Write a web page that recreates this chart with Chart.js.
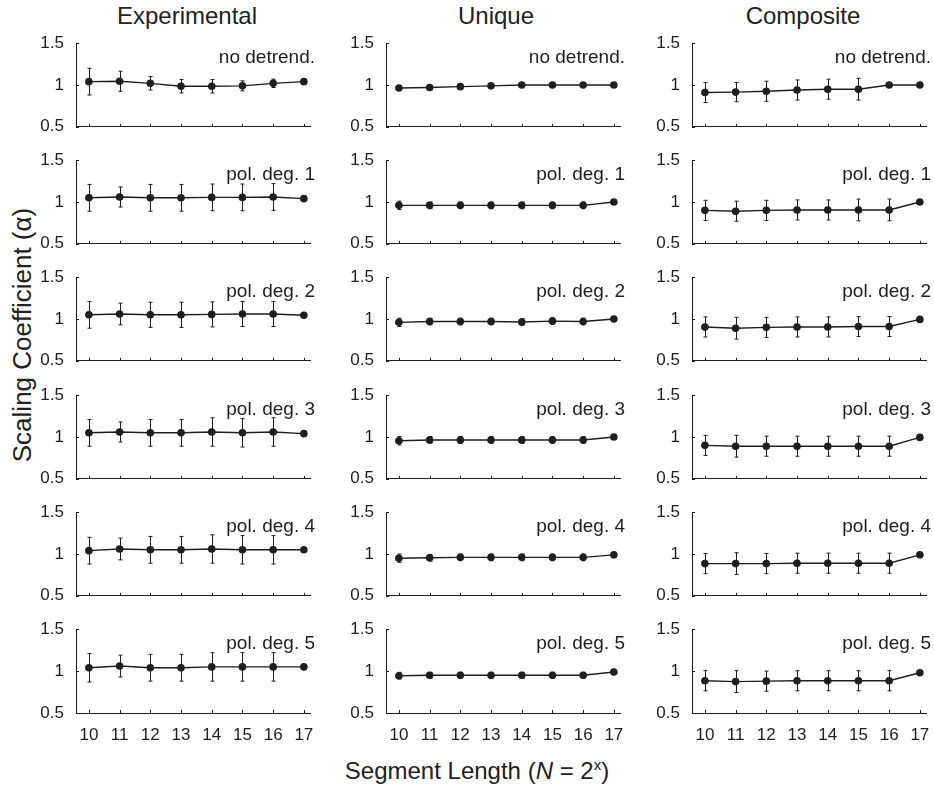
<!DOCTYPE html>
<html>
<head>
<meta charset="utf-8">
<script src="https://cdn.jsdelivr.net/npm/chart.js@4.4.1/dist/chart.umd.min.js"></script>
<style>
  body { margin: 0; background: #fff; font-family: "Liberation Sans", Arial, sans-serif; color: #222; }
  #wrap { position: relative; width: 934px; height: 792px; overflow: hidden; }
  .panel { position: absolute; }
  .panel canvas { display: block; }
  .title { position: absolute; font-size: 24px; transform: translateX(-50%); white-space: nowrap; }
  #xtitle { position: absolute; left: 477px; top: 756px; font-size: 24px; transform: translateX(-50%); white-space: nowrap; }
  #ytitle { position: absolute; left: 22px; top: 335px; font-size: 26px; transform: translate(-50%, -50%) rotate(-90deg); white-space: nowrap; }
</style>
</head>
<body>
<div id="wrap">
  <div id="xtitle">Segment Length (<i>N</i> = 2<sup style="font-size:15px">x</sup>)</div>
  <div id="ytitle">Scaling Coefficient (&alpha;)</div>
</div>
<script>
// x values: log2 of segment length
const segLen = [10, 11, 12, 13, 14, 15, 16, 17];
const colTitles = ['Experimental', 'Unique', 'Composite'];
const rowLabels = ['no detrend.', 'pol. deg. 1', 'pol. deg. 2', 'pol. deg. 3', 'pol. deg. 4', 'pol. deg. 5'];
const yTicks = [0.5, 1, 1.5];

// Experimental
const expVals = [
  [1.04, 1.045, 1.02, 0.985, 0.985, 0.99, 1.02, 1.04],
  [1.05, 1.06, 1.05, 1.05, 1.055, 1.055, 1.06, 1.04],
  [1.05, 1.06, 1.05, 1.05, 1.055, 1.06, 1.06, 1.045],
  [1.05, 1.06, 1.05, 1.05, 1.06, 1.05, 1.06, 1.04],
  [1.04, 1.06, 1.05, 1.05, 1.06, 1.05, 1.05, 1.05],
  [1.04, 1.06, 1.04, 1.04, 1.05, 1.05, 1.05, 1.05]
];
const expErr = [
  [0.16, 0.12, 0.08, 0.08, 0.08, 0.06, 0.05, 0],
  [0.16, 0.12, 0.16, 0.16, 0.16, 0.16, 0.16, 0],
  [0.16, 0.13, 0.15, 0.15, 0.15, 0.15, 0.15, 0],
  [0.16, 0.12, 0.16, 0.16, 0.17, 0.17, 0.17, 0],
  [0.16, 0.13, 0.16, 0.16, 0.17, 0.17, 0.17, 0],
  [0.17, 0.13, 0.16, 0.16, 0.17, 0.17, 0.17, 0]
];

// Unique
const uniVals = [
  [0.965, 0.97, 0.98, 0.99, 1.0, 1.0, 1.0, 1.0],
  [0.96, 0.96, 0.96, 0.96, 0.96, 0.96, 0.96, 1.0],
  [0.96, 0.97, 0.97, 0.97, 0.965, 0.975, 0.97, 1.0],
  [0.955, 0.965, 0.965, 0.965, 0.965, 0.965, 0.965, 1.0],
  [0.95, 0.955, 0.96, 0.96, 0.96, 0.96, 0.96, 0.99],
  [0.945, 0.95, 0.95, 0.95, 0.95, 0.95, 0.95, 0.99]
];
const uniErr = [
  [0.03, 0.02, 0.015, 0.015, 0.01, 0.01, 0.01, 0],
  [0.05, 0.04, 0.04, 0.04, 0.04, 0.04, 0.04, 0],
  [0.05, 0.04, 0.04, 0.04, 0.04, 0.04, 0.04, 0],
  [0.05, 0.04, 0.04, 0.04, 0.04, 0.04, 0.04, 0],
  [0.05, 0.04, 0.04, 0.04, 0.04, 0.04, 0.04, 0],
  [0.04, 0.035, 0.035, 0.035, 0.035, 0.035, 0.035, 0]
];

// Composite
const compVals = [
  [0.91, 0.915, 0.925, 0.94, 0.95, 0.95, 1.0, 1.0],
  [0.9, 0.89, 0.9, 0.905, 0.905, 0.905, 0.905, 1.0],
  [0.905, 0.89, 0.9, 0.905, 0.905, 0.91, 0.91, 0.995],
  [0.9, 0.89, 0.89, 0.89, 0.89, 0.89, 0.89, 0.995],
  [0.885, 0.885, 0.885, 0.89, 0.89, 0.89, 0.89, 0.99],
  [0.885, 0.875, 0.88, 0.885, 0.885, 0.885, 0.885, 0.98]
];
const compErr = [
  [0.12, 0.115, 0.12, 0.12, 0.12, 0.13, 0, 0],
  [0.12, 0.12, 0.12, 0.12, 0.12, 0.13, 0.13, 0],
  [0.12, 0.13, 0.12, 0.12, 0.12, 0.12, 0.12, 0],
  [0.12, 0.13, 0.12, 0.12, 0.12, 0.12, 0.12, 0],
  [0.12, 0.13, 0.12, 0.12, 0.12, 0.12, 0.12, 0],
  [0.12, 0.13, 0.12, 0.12, 0.12, 0.12, 0.12, 0]
];

const columns = [
  { vals: expVals, err: expErr },
  { vals: uniVals, err: uniErr },
  { vals: compVals, err: compErr }
];

// panel geometry
const axisLeft = [76, 386, 692];   // x of y-axis line per column
const plotW = 234;
const plotH = 84;
const rowTop0 = 43, rowStep = 117.2;
const yAxisW = 56, padTop = 12, padRight = 24;
const titleX = [187, 496, 803];
const ink = '#1e1e1e';
const FONT = '"Liberation Sans", Arial, sans-serif';

// error bars drawn through the chart's scales
const errorBars = {
  id: 'errorBars',
  beforeDatasetsDraw(chart, args, opts) {
    const { ctx, scales: { x, y } } = chart;
    ctx.save();
    ctx.strokeStyle = ink;
    ctx.lineWidth = 1;
    opts.values.forEach((v, i) => {
      const e = opts.errors[i];
      if (!e) return;
      const px = Math.round(x.getPixelForValue(opts.xs[i])) + 0.5;
      const top = y.getPixelForValue(v + e), bot = y.getPixelForValue(v - e);
      ctx.beginPath();
      ctx.moveTo(px, top); ctx.lineTo(px, bot);
      ctx.moveTo(px - 2, top); ctx.lineTo(px + 2, top);
      ctx.moveTo(px - 2, bot); ctx.lineTo(px + 2, bot);
      ctx.stroke();
    });
    ctx.restore();
  }
};

// small inward ticks plus the panel label
const panelDecor = {
  id: 'panelDecor',
  afterDraw(chart, args, opts) {
    const { ctx, chartArea: a, scales: { x, y } } = chart;
    ctx.save();
    ctx.strokeStyle = ink;
    ctx.lineWidth = 1;
    ctx.beginPath();
    yTicks.forEach(t => {
      const py = Math.round(y.getPixelForValue(t)) + 0.5;
      ctx.moveTo(a.left, py); ctx.lineTo(a.left + 3, py);
    });
    segLen.forEach(t => {
      const px = Math.round(x.getPixelForValue(t)) + 0.5;
      ctx.moveTo(px, a.bottom); ctx.lineTo(px, a.bottom - 3);
    });
    ctx.stroke();
    ctx.fillStyle = ink;
    ctx.font = '19px ' + FONT;
    ctx.textAlign = 'right';
    ctx.textBaseline = 'middle';
    ctx.fillText(opts.label, a.right + 5, y.getPixelForValue(1.33));
    ctx.restore();
  }
};

const wrap = document.getElementById('wrap');

colTitles.forEach((t, c) => {
  const d = document.createElement('div');
  d.className = 'title';
  d.textContent = t;
  d.style.left = titleX[c] + 'px';
  d.style.top = '2px';
  wrap.appendChild(d);
});

for (let r = 0; r < rowLabels.length; r++) {
  const isBottom = r === rowLabels.length - 1;
  const xH = isBottom ? 36 : 12;
  const wantTop = Math.round(rowTop0 + rowStep * r);
  for (let c = 0; c < columns.length; c++) {
    const vals = columns[c].vals[r];
    const errs = columns[c].err[r];
    const w = yAxisW + plotW + padRight;
    let h = padTop + plotH + xH;
    const div = document.createElement('div');
    div.className = 'panel';
    div.style.left = (axisLeft[c] - yAxisW) + 'px';
    div.style.top = (wantTop - padTop) + 'px';
    div.style.width = w + 'px';
    div.style.height = h + 'px';
    const canvas = document.createElement('canvas');
    div.appendChild(canvas);
    wrap.appendChild(div);

    const chart = new Chart(canvas.getContext('2d'), {
      type: 'line',
      data: {
        datasets: [{
          data: segLen.map((s, i) => ({ x: s, y: vals[i] })),
          borderColor: ink,
          backgroundColor: ink,
          borderWidth: 1.4,
          pointRadius: 3.8,
          pointBackgroundColor: ink,
          pointBorderWidth: 0,
          tension: 0
        }]
      },
      options: {
        responsive: true,
        maintainAspectRatio: false,
        animation: false,
        layout: { autoPadding: false, padding: { top: padTop, right: padRight, left: 0, bottom: 0 } },
        scales: {
          x: {
            type: 'linear',
            min: 9.58,
            max: 17.2,
            afterBuildTicks: s => { s.ticks = segLen.map(v => ({ value: v })); },
            afterFit: s => { s.height = xH; },
            grid: { display: false, drawTicks: false },
            border: { display: true, color: ink, width: 1 },
            ticks: {
              display: isBottom,
              padding: 12,
              color: ink,
              font: { family: FONT, size: 17 },
              maxRotation: 0,
              autoSkip: false
            }
          },
          y: {
            min: 0.5,
            max: 1.5,
            afterBuildTicks: s => { s.ticks = yTicks.map(v => ({ value: v })); },
            afterFit: s => { s.width = yAxisW; },
            grid: { display: false, drawTicks: false },
            border: { display: true, color: ink, width: 1 },
            ticks: {
              padding: 12,
              color: ink,
              font: { family: FONT, size: 17 },
              callback: v => String(v)
            }
          }
        },
        plugins: {
          legend: { display: false },
          tooltip: { enabled: false },
          errorBars: { values: vals, errors: errs, xs: segLen },
          panelDecor: { label: rowLabels[r] }
        }
      },
      plugins: [errorBars, panelDecor]
    });

    // settle the panel so the plot area lands on the intended box
    let ca = chart.chartArea;
    const dh = Math.round(plotH - (ca.bottom - ca.top));
    if (dh) {
      h += dh;
      div.style.height = h + 'px';
      chart.resize(w, h);
      ca = chart.chartArea;
    }
    div.style.top = Math.round(wantTop - ca.top) + 'px';
    div.style.left = Math.round(axisLeft[c] - ca.left) + 'px';
  }
}
</script>
</body>
</html>
